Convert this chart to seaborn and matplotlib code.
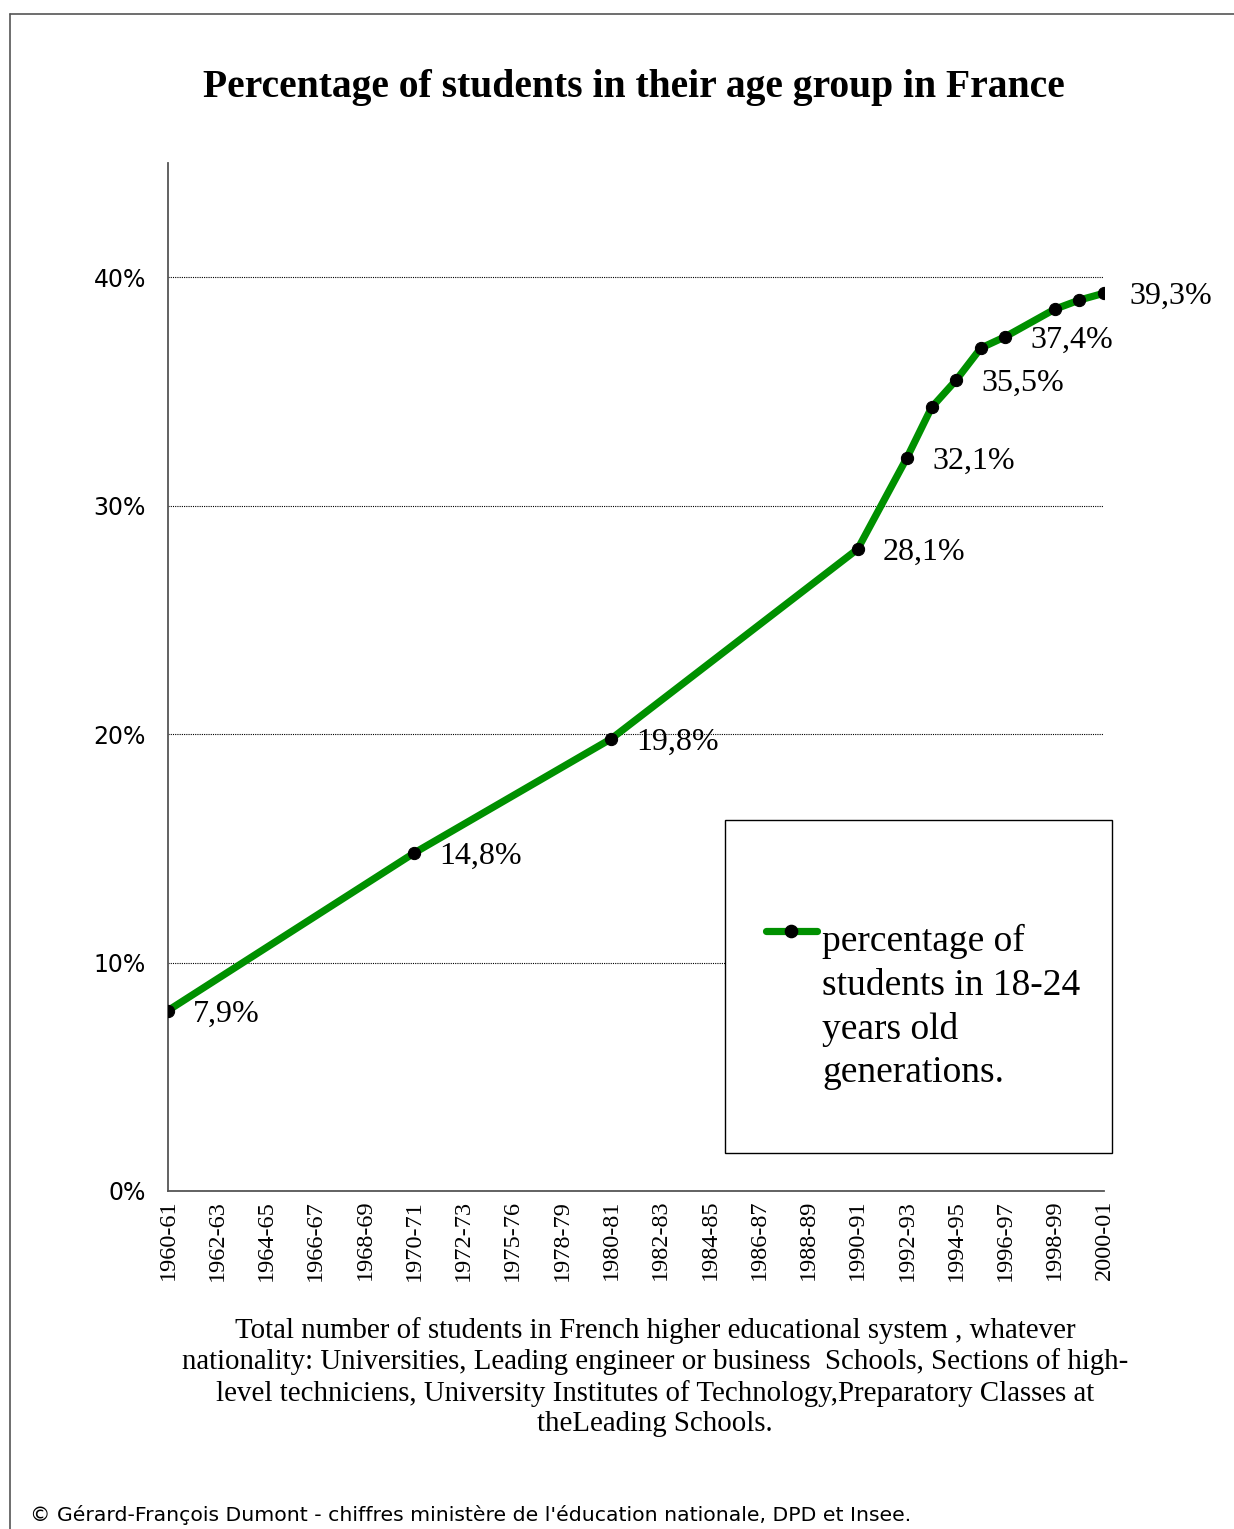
import numpy as np
import pandas as pd
import seaborn as sns
import matplotlib
matplotlib.use('Agg')
import matplotlib.pyplot as plt
from matplotlib.patches import Rectangle
from matplotlib.lines import Line2D
from matplotlib.legend_handler import HandlerLine2D

# all school years on the axis (one slot each)
periods = ['1960-61', '1961-62', '1962-63', '1963-64', '1964-65', '1965-66', '1966-67',
           '1967-68', '1968-69', '1969-70', '1970-71', '1971-72', '1972-73', '1973-74',
           '1975-76', '1976-77', '1978-79', '1979-80', '1980-81', '1981-82', '1982-83',
           '1983-84', '1984-85', '1985-86', '1986-87', '1987-88', '1988-89', '1989-90',
           '1990-91', '1991-92', '1992-93', '1993-94', '1994-95', '1995-96', '1996-97',
           '1997-98', '1998-99', '1999-00', '2000-01']
shown_ticks = periods[::2]

data_periods = ['1960-61', '1970-71', '1980-81', '1990-91', '1992-93', '1993-94',
                '1994-95', '1995-96', '1996-97', '1998-99', '1999-00', '2000-01']
values = [7.9, 14.8, 19.8, 28.1, 32.1, 34.3, 35.5, 36.9, 37.4, 38.6, 39.0, 39.3]
labelled_periods = ['1960-61', '1970-71', '1980-81', '1990-91', '1992-93',
                    '1994-95', '1996-97', '2000-01']

title = 'Percentage of students in their age group in France'
legend_label = 'percentage of\nstudents in 18-24\nyears old\ngenerations.'
caption = ('Total number of students in French higher educational system , whatever\n'
           'nationality: Universities, Leading engineer or business  Schools, Sections of high-\n'
           'level techniciens, University Institutes of Technology,Preparatory Classes at\n'
           'theLeading Schools.')
credit = "\u00a9 G\u00e9rard-Fran\u00e7ois Dumont - chiffres minist\u00e8re de l'\u00e9ducation nationale, DPD et Insee."

df = pd.DataFrame({'slot': [periods.index(p) for p in data_periods], 'value': values})

sns.set_style('white')
plt.rcParams['font.family'] = ['DejaVu Sans']
plt.rcParams['text.color'] = 'black'
serif = 'Liberation Serif'
green = '#009000'
axis_grey = '#555555'

W, H = 1234, 1529
fig = plt.figure(figsize=(W / 100, H / 100), dpi=100)
ax = fig.add_axes([168 / W, 1 - 1191 / H, (1104 - 168) / W, (1191 - 163) / H])

sns.lineplot(data=df, x='slot', y='value', color=green, linewidth=5.2,
             marker='o', markersize=8.8, markerfacecolor='black', markeredgecolor='black',
             label=legend_label, legend=False, ax=ax, zorder=3)

for p, v in zip(data_periods, values):
    if p in labelled_periods:
        ax.annotate(f'{v:.1f}%'.replace('.', ','), (periods.index(p), v),
                    xytext=(18, -2.5), textcoords='offset points', ha='left', va='center',
                    fontsize=23, fontfamily=serif, color='black', zorder=4)

ax.set_xlim(0, len(periods) - 1)
ax.set_ylim(0, 45)
ax.set_xticks(range(len(periods)))
ax.set_xticklabels([p if p in shown_ticks else '' for p in periods],
                   rotation=90, fontsize=17.5, fontfamily=serif)
ax.set_yticks([0, 10, 20, 30, 40])
ax.set_yticklabels(['0%', '10%', '20%', '30%', '40%'], fontsize=17)
ax.tick_params(axis='x', direction='inout', length=8.6, width=1, color=axis_grey,
               labelcolor='black', pad=2)
ax.tick_params(axis='y', direction='out', length=6, width=1, color=axis_grey,
               labelcolor='black', pad=10)
ax.set_xlabel('')
ax.set_ylabel('')
ax.yaxis.grid(True, linestyle=(0, (1, 1)), linewidth=0.8, color='black')
ax.set_axisbelow(True)
sns.despine(ax=ax)
for s in ['left', 'bottom']:
    ax.spines[s].set_color(axis_grey)
    ax.spines[s].set_linewidth(1.3)


# legend box drawn separately so the handle can sit on the first text line
class FirstLineHandler(HandlerLine2D):
    def create_artists(self, legend, orig_handle, xdescent, ydescent, width, height, fontsize, trans):
        return super().create_artists(legend, orig_handle, xdescent, ydescent - 2 * 2.03 * fontsize,
                                      width, height, fontsize, trans)


box = Rectangle((725 / W, 1 - 1153 / H), (1112 - 725) / W, (1153 - 820) / H,
                transform=fig.transFigure, facecolor='white', edgecolor='black',
                linewidth=1, zorder=4)
fig.add_artist(box)
handle = Line2D([], [], color=green, linewidth=5.2, solid_capstyle='round',
                marker='o', markersize=8.8, markerfacecolor='black', markeredgecolor='black')
leg = fig.legend([handle], [legend_label], loc='upper left',
                 bbox_to_anchor=(766 / W, 1 - 924 / H), bbox_transform=fig.transFigure,
                 frameon=False, borderpad=0, borderaxespad=0, handlelength=1.35,
                 handletextpad=0.15, prop={'family': serif, 'size': 27},
                 handler_map={Line2D: FirstLineHandler()})
leg.get_texts()[0].set_linespacing(1.34)
leg.set_zorder(5)

fig.text(634 / W, 1 - 88 / H, title, ha='center', va='center',
         fontsize=28.5, fontweight='bold', fontfamily=serif)
fig.text(655 / W, 1 - 1377 / H, caption, ha='center', va='center', multialignment='center',
         fontsize=20.8, fontfamily=serif, linespacing=1.21)
fig.text(30 / W, 1 - 1515 / H, credit, ha='left', va='center', fontsize=14.7)

# page frame
fig.add_artist(Line2D([10 / W, 10 / W], [0, 1 - 14 / H], transform=fig.transFigure,
                      color=axis_grey, linewidth=1.2))
fig.add_artist(Line2D([10 / W, 1], [1 - 14 / H, 1 - 14 / H], transform=fig.transFigure,
                      color=axis_grey, linewidth=1.2))

plt.savefig('out.png', dpi=100)
